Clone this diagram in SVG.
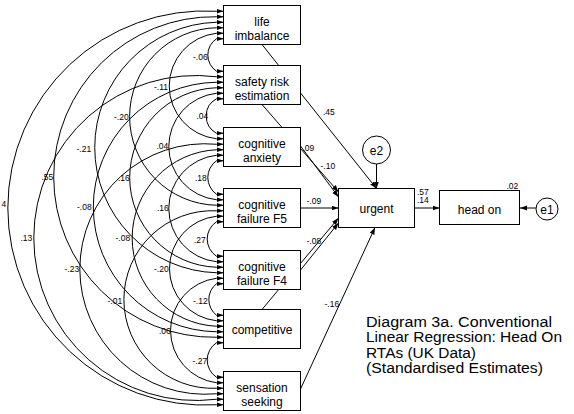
<svg xmlns="http://www.w3.org/2000/svg" width="574" height="414" viewBox="0 0 574 414">
<style>
.box{fill:#fff;stroke:#000;stroke-width:1}
.ell{fill:#fff;stroke:#000;stroke-width:1}
.t{font-family:"Liberation Sans",Arial,sans-serif;font-size:12px;fill:#000;text-anchor:middle}
.c{fill:none;stroke:#000;stroke-width:1;marker-end:url(#ah)}
.cv{fill:none;stroke:#000;stroke-width:1;marker-start:url(#ah);marker-end:url(#ah)}
.l{font-family:"Liberation Sans",Arial,sans-serif;font-size:8.5px;fill:#000}
.cap{font-family:"Liberation Sans",Arial,sans-serif;font-size:13.8px;fill:#000}
</style>
<defs>
<marker id="ah" markerUnits="userSpaceOnUse" viewBox="0 0 8 6" markerWidth="8" markerHeight="6" refX="7" refY="3" orient="auto-start-reverse">
<path d="M0,0.5 L7,3 L0,5.5 Z" fill="#000"/>
</marker>
</defs>
<rect width="574" height="414" fill="#fff"/>
<g id="connectors">
<path class="cv" d="M223.5,38.75 H216.5 A19.53,19.53 0 0 0 216.5,71.25 H223.5"/>
<path class="cv" d="M223.5,98.75 H216.5 A19.6,19.6 0 0 0 216.5,133.25 H223.5"/>
<path class="cv" d="M223.5,160.75 H216.5 A20.47,20.47 0 0 0 216.5,194.25 H223.5"/>
<path class="cv" d="M223.5,221.75 H216.5 A20.65,20.65 0 0 0 216.5,256.25 H223.5"/>
<path class="cv" d="M223.5,283.75 H216.5 A19.96,19.96 0 0 0 216.5,315.25 H223.5"/>
<path class="cv" d="M223.5,342.75 H216.5 A20.65,20.65 0 0 0 216.5,377.25 H223.5"/>
<path class="cv" d="M223.5,33.25 H216.5 A53.07,53.07 0 0 0 216.5,138.75 H223.5"/>
<path class="cv" d="M223.5,93.25 H216.5 A53.57,53.57 0 0 0 216.5,199.75 H223.5"/>
<path class="cv" d="M223.5,155.25 H216.5 A53.57,53.57 0 0 0 216.5,261.75 H223.5"/>
<path class="cv" d="M223.5,216.25 H216.5 A52.54,52.54 0 0 0 216.5,320.75 H223.5"/>
<path class="cv" d="M223.5,278.25 H216.5 A52.68,52.68 0 0 0 216.5,382.75 H223.5"/>
<path class="cv" d="M223.5,27.75 H216.5 A88.77,88.77 0 0 0 216.5,205.25 H223.5"/>
<path class="cv" d="M223.5,87.75 H216.5 A89.8,89.8 0 0 0 216.5,267.25 H223.5"/>
<path class="cv" d="M223.5,149.75 H216.5 A88.34,88.34 0 0 0 216.5,326.25 H223.5"/>
<path class="cv" d="M223.5,210.75 H216.5 A88.83,88.83 0 1 0 216.5,388.25 H223.5"/>
<path class="cv" d="M223.5,22.25 H216.5 A125.3,125.3 0 0 0 216.5,272.75 H223.5"/>
<path class="cv" d="M223.5,82.25 H216.5 A124.76,124.76 0 0 0 216.5,331.75 H223.5"/>
<path class="cv" d="M223.5,144.25 H216.5 A125.27,125.27 0 1 0 216.5,393.75 H223.5"/>
<path class="cv" d="M223.5,16.75 H216.5 A160.27,160.27 0 1 0 216.5,337.25 H223.5"/>
<path class="cv" d="M223.5,76.75 H216.5 A162.51,162.51 0 1 0 216.5,399.25 H223.5"/>
<path class="cv" d="M223.5,11.25 H216.5 A197.09,197.09 0 1 0 216.5,404.75 H223.5"/>
<path class="c" d="M376.5,164 V188.5"/>
<path class="c" d="M262,44.5 L376.5,188.5"/>
<path class="c" d="M262,104.5 L338.5,192"/>
<path class="c" d="M300.5,146 L338.5,197"/>
<path class="c" d="M300.5,208 L338.5,208"/>
<path class="c" d="M262,309.5 L338.5,218"/>
<path class="c" d="M300.5,270 L338.5,223"/>
<path class="c" d="M300.5,389 L375,227.5"/>
<path class="c" d="M414.5,208 L439.5,208"/>
<path class="c" d="M536,208 L520,208"/>
<g id="labels">
<text class="l" x="193" y="60">-.06</text>
<text class="l" x="154" y="90">-.11</text>
<text class="l" x="196.5" y="119">.04</text>
<text class="l" x="114" y="120">-.20</text>
<text class="l" x="76.5" y="151.5">-.21</text>
<text class="l" x="156.5" y="148.5">.04</text>
<text class="l" x="41.5" y="180">.55</text>
<text class="l" x="118" y="180.5">.16</text>
<text class="l" x="195" y="180.5">.18</text>
<text class="l" x="1.5" y="206.5">4</text>
<text class="l" x="77" y="209.5">-.08</text>
<text class="l" x="157" y="210.5">.16</text>
<text class="l" x="20.5" y="241">.13</text>
<text class="l" x="115.5" y="241">-.08</text>
<text class="l" x="194" y="242.5">.27</text>
<text class="l" x="64.5" y="272">-.23</text>
<text class="l" x="154" y="272">-.20</text>
<text class="l" x="107.5" y="304">-.01</text>
<text class="l" x="193" y="303.5">-.12</text>
<text class="l" x="159" y="334">.06</text>
<text class="l" x="192.5" y="364">-.27</text>
<text class="l" x="323" y="115">.45</text>
<text class="l" x="302.5" y="150.5">.09</text>
<text class="l" x="320.5" y="169">-.10</text>
<text class="l" x="306.5" y="204">-.09</text>
<text class="l" x="306.5" y="244">-.08</text>
<text class="l" x="289" y="260">.28</text>
<text class="l" x="324.5" y="307">-.16</text>
<text class="l" x="417" y="194.5">.57</text>
<text class="l" x="417" y="203">.14</text>
<text class="l" x="506.5" y="189">.02</text>
</g>
</g>
<g id="life_imbalance"><rect class="box" x="223.5" y="5.5" width="77" height="39"/><text class="t" x="262" y="25.5">life</text><text class="t" x="262" y="39.5">imbalance</text></g>
<g id="safety_risk_estimation"><rect class="box" x="223.5" y="65.5" width="77" height="39"/><text class="t" x="262" y="85.5">safety risk</text><text class="t" x="262" y="99.5">estimation</text></g>
<g id="cognitive_anxiety"><rect class="box" x="223.5" y="127.5" width="77" height="39"/><text class="t" x="262" y="147.5">cognitive</text><text class="t" x="262" y="161.5">anxiety</text></g>
<g id="cognitive_failure_f5"><rect class="box" x="223.5" y="188.5" width="77" height="39"/><text class="t" x="262" y="208.5">cognitive</text><text class="t" x="262" y="222.5">failure F5</text></g>
<g id="cognitive_failure_f4"><rect class="box" x="223.5" y="250.5" width="77" height="39"/><text class="t" x="262" y="270.5">cognitive</text><text class="t" x="262" y="284.5">failure F4</text></g>
<g id="competitive"><rect class="box" x="223.5" y="309.5" width="77" height="39"/><text class="t" x="262" y="333.5">competitive</text></g>
<g id="sensation_seeking"><rect class="box" x="223.5" y="371.5" width="77" height="39"/><text class="t" x="262" y="391.5">sensation</text><text class="t" x="262" y="405.5">seeking</text></g>
<g id="urgent"><rect class="box" x="338.5" y="188.5" width="76" height="39"/><text class="t" x="376.5" y="212.5">urgent</text></g>
<g id="head_on"><rect class="box" x="439.5" y="190.5" width="80" height="34"/><text class="t" x="479.5" y="214">head on</text></g>
<g id="e2"><circle class="ell" cx="376.5" cy="150" r="14"/><text class="t" x="376.5" y="154.5">e2</text></g>
<g id="e1"><circle class="ell" cx="547" cy="209" r="11"/><text class="t" x="547" y="213.5">e1</text></g>
<g id="caption">
<text class="cap" x="366" y="326.5" textLength="186" lengthAdjust="spacingAndGlyphs">Diagram 3a. Conventional</text>
<text class="cap" x="366" y="342" textLength="196" lengthAdjust="spacingAndGlyphs">Linear Regression: Head On</text>
<text class="cap" x="366" y="357.5" textLength="110" lengthAdjust="spacingAndGlyphs">RTAs (UK Data)</text>
<text class="cap" x="366" y="373" textLength="177" lengthAdjust="spacingAndGlyphs">(Standardised Estimates)</text>
</g>
</svg>
